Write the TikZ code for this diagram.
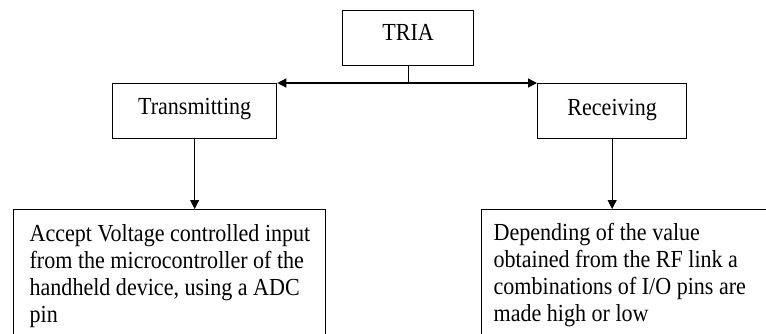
\documentclass[tikz,border=0pt]{standalone}
\usepackage{fontspec}
\setmainfont{Liberation Serif}[FakeStretch=0.9]
\usetikzlibrary{arrows.meta}

\begin{document}
\begin{tikzpicture}[x=1pt,y=-1pt,
  box/.style={draw, line width=1.3pt, inner sep=0pt},
  lbl/.style={font=\fontsize{24.5}{27}\selectfont},
  link/.style={line width=1pt, -{Triangle[length=9pt,width=9pt]}},
  bar/.style={line width=1.3pt},
]
\useasboundingbox (0,0) rectangle (766,333);
\clip (0,0) rectangle (766,333);

% top level
\node[box, lbl, anchor=north west, minimum width=131pt,
      text height=30pt, text depth=25pt] (tria) at (342,10) {TRIA};

% second level
\node[box, lbl, anchor=north west, minimum width=164pt,
      text height=31pt, text depth=24pt] (tx) at (112,83) {Transmitting};
\node[box, lbl, anchor=north west, minimum width=149pt,
      text height=32pt, text depth=23pt] (rx) at (537,83) {Receiving};

% description boxes (they run past the lower edge)
\node[box, lbl, anchor=north west] (txdesc) at (13,209)
  {\parbox[t][160pt][t]{312pt}{\leftskip=16pt\rightskip=0pt plus 1fil
   \rule{0pt}{31.7pt}Accept Voltage controlled input\\
   from the microcontroller of the\\
   handheld device, using a ADC\\
   pin}};
\node[box, lbl, anchor=north west] (rxdesc) at (481,209)
  {\parbox[t][160pt][t]{320pt}{\leftskip=12pt\rightskip=0pt plus 1fil
   \rule{0pt}{31pt}Depending of the value\\
   obtained from the RF link a\\
   combinations of I/O pins are\\
   made high or low}};

% connectors
\coordinate (split) at (tria.south |- tx.north);
\draw[bar] (tria.south) -- (split);
\draw[link, line width=1.3pt] (split) -- (tx.north east);
\draw[link, line width=1.3pt] (split) -- (rx.north west);
\draw[link] (tx.south) -- (tx.south |- txdesc.north);
\draw[link] (rx.south) -- (rx.south |- rxdesc.north);
\end{tikzpicture}
\end{document}
